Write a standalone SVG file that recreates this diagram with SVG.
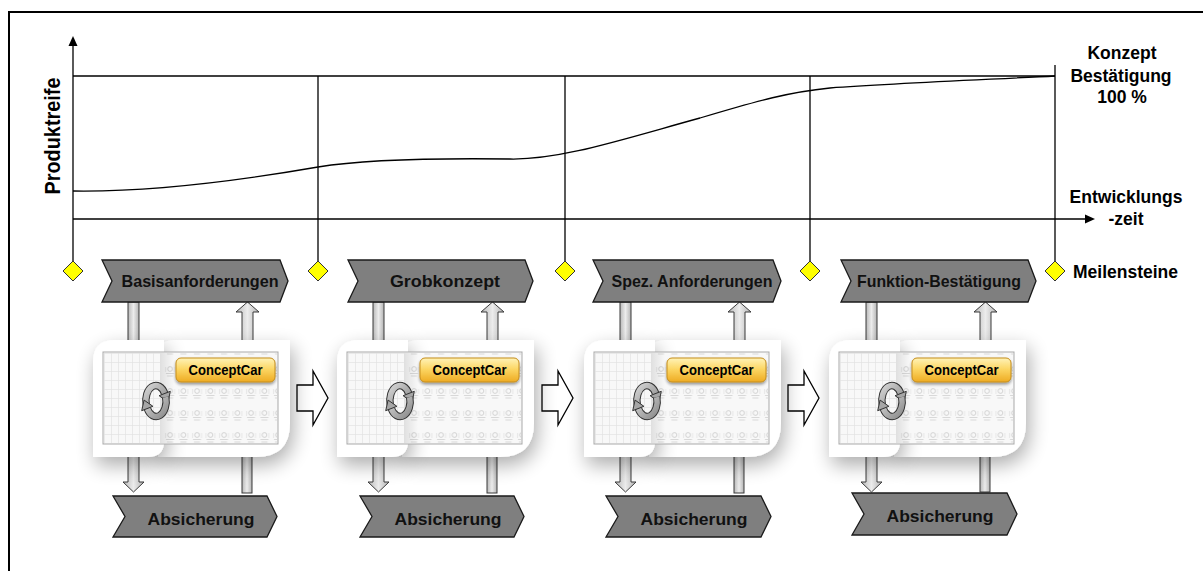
<svg xmlns="http://www.w3.org/2000/svg" xmlns:xlink="http://www.w3.org/1999/xlink" width="1203" height="571" viewBox="0 0 1203 571">
  <style>
    .t{font-family:"Liberation Sans",Arial,Helvetica,sans-serif;font-weight:bold;fill:#000}
    .mid{text-anchor:middle}
    .ax{stroke:#000;stroke-width:1.3;fill:none}
    .ms{fill:#ffff00;stroke:#333;stroke-width:1}
    .chev{fill:#7f7f7f;stroke:#1a1a1a;stroke-width:1.3}
    .ct{font-family:"Liberation Sans",Arial,Helvetica,sans-serif;font-weight:bold;font-size:17px;fill:#111;text-anchor:middle}
    .bar{fill:url(#barG);stroke:#3a3a3a;stroke-width:1}
    .blk{fill:#fff;stroke:#000;stroke-width:1.3}
    .page{fill:#fff}
    .rotO{fill:none;stroke:#333;stroke-width:7.5}
    .rotI{fill:none;stroke:url(#rotG);stroke-width:5.5}
    .rotH{fill:#a6a6a6;stroke:#333;stroke-width:1}
  </style>
  <defs>
    <linearGradient id="barG" x1="0" y1="0" x2="1" y2="0">
      <stop offset="0" stop-color="#b9b9b9"/>
      <stop offset="0.5" stop-color="#ececec"/>
      <stop offset="1" stop-color="#b4b4b4"/>
    </linearGradient>
    <linearGradient id="btnG" x1="0" y1="0" x2="0" y2="1">
      <stop offset="0" stop-color="#fff3b8"/>
      <stop offset="0.45" stop-color="#fcd765"/>
      <stop offset="1" stop-color="#eeab22"/>
    </linearGradient>
    <linearGradient id="rotG" x1="0" y1="0" x2="1" y2="1">
      <stop offset="0" stop-color="#d4d4d4"/>
      <stop offset="1" stop-color="#8c8c8c"/>
    </linearGradient>
    <linearGradient id="seam" x1="0" y1="0" x2="1" y2="0">
      <stop offset="0" stop-color="#000" stop-opacity="0.10"/>
      <stop offset="1" stop-color="#000" stop-opacity="0"/>
    </linearGradient>
    <filter id="soft" x="-30%" y="-30%" width="160%" height="170%">
      <feGaussianBlur in="SourceAlpha" stdDeviation="10"/>
      <feOffset dx="3" dy="8" result="b"/>
      <feComponentTransfer><feFuncA type="linear" slope="0.33"/></feComponentTransfer>
      <feMerge><feMergeNode/><feMergeNode in="SourceGraphic"/></feMerge>
    </filter>
    <filter id="btnShadow" x="-20%" y="-40%" width="140%" height="200%">
      <feGaussianBlur in="SourceAlpha" stdDeviation="1.6"/>
      <feOffset dx="0" dy="2"/>
      <feComponentTransfer><feFuncA type="linear" slope="0.4"/></feComponentTransfer>
      <feMerge><feMergeNode/><feMergeNode in="SourceGraphic"/></feMerge>
    </filter>
    <!-- spreadsheet grid of the left page -->
    <pattern id="gridPat" patternUnits="userSpaceOnUse" x="104" y="353" width="7" height="9">
      <rect width="7" height="9" fill="#f8f8f8"/>
      <path d="M0,0.5H7M0.5,0V9" stroke="#e2e2e2" stroke-width="0.7"/>
    </pattern>
    <!-- rows of small thumbnails on the right page -->
    <pattern id="iconPat" patternUnits="userSpaceOnUse" x="163" y="362" width="13.5" height="22">
      <rect width="13.5" height="22" fill="#f8f8f8"/>
      <circle cx="7" cy="7" r="2.4" fill="none" stroke="#c8c8c8" stroke-width="0.8"/>
      <path d="M3,11.5H11M4,14H10" stroke="#d0d0d0" stroke-width="0.8"/>
      <path d="M2.5,5V10M11.5,5V10" stroke="#dadada" stroke-width="0.6"/>
    </pattern>
    <!-- one tool screen: two pages, content, button and refresh icon -->
    <g id="panelArt">
      <path class="page" filter="url(#soft)" d="M158,457 L158,356 Q158,340 175,340 L290,340 L290,423 Q290,457 256,457 Z"/>
      <path class="page" filter="url(#soft)" d="M93,362 Q93,340 115,340 L164,340 L164,441 Q164,457 148,457 L93,457 Z"/>
      <rect x="103" y="352" width="175" height="92" fill="#f8f8f8" stroke="#a9a9a9" stroke-width="1"/>
      <rect x="162" y="353" width="115" height="90" fill="url(#iconPat)"/>
      <path d="M104,353 H160 V432 Q160,443 149,443 H104 Z" fill="url(#gridPat)"/>
      <rect x="160" y="353" width="14" height="90" fill="url(#seam)"/>
      <g filter="url(#btnShadow)">
        <rect x="176" y="358" width="99" height="24" rx="5" fill="url(#btnG)" stroke="#c58d1c" stroke-width="1"/>
      </g>
      <text x="225.5" y="375" class="t mid" font-size="15" textLength="74" lengthAdjust="spacingAndGlyphs">ConceptCar</text>
      <g>
        <path class="rotO" d="M146.3,404.9 A10,15 0 0 1 164.7,393.5"/>
        <path class="rotI" d="M146.3,404.9 A10,15 0 0 1 164.7,393.5"/>
        <polygon class="rotH" points="170.3,391.3 159.1,395.7 168,401.9"/>
        <path class="rotO" d="M165.7,397.1 A10,15 0 0 1 147.3,408.5"/>
        <path class="rotI" d="M165.7,397.1 A10,15 0 0 1 147.3,408.5"/>
        <polygon class="rotH" points="152.9,406.3 141.7,410.7 144.1,400.1"/>
      </g>
    </g>
  </defs>

  <rect width="1203" height="571" fill="#fff"/>
  <!-- outer frame -->
  <rect x="9" y="12" width="1200" height="570" fill="none" stroke="#000" stroke-width="2"/>

  <!-- maturity chart -->
  <g id="chart">
    <line class="ax" x1="73" y1="46" x2="73" y2="261"/>
    <polygon points="73,36 68.5,46 77.5,46" fill="#000"/>
    <line class="ax" x1="73" y1="219" x2="1086" y2="219"/>
    <polygon points="1095,219 1085,214.5 1085,223.5" fill="#000"/>
    <line class="ax" x1="73" y1="76" x2="1055" y2="76"/>
    <line class="ax" x1="318" y1="76" x2="318" y2="261"/>
    <line class="ax" x1="565" y1="76" x2="565" y2="261"/>
    <line class="ax" x1="810" y1="76" x2="810" y2="261"/>
    <line class="ax" x1="1055" y1="65" x2="1055" y2="261"/>
    <path class="ax" d="M73,191 C140,192 220,184 318,167 C360,160 430,158 510,159 C560,160 620,140 700,118 C760,100 790,92 830,88 C900,83 1000,79 1055,76"/>
    <text class="t mid" font-size="22" textLength="117" lengthAdjust="spacingAndGlyphs" transform="translate(60,136) rotate(-90)">Produktreife</text>
    <text class="t mid" font-size="17.5" x="1122" y="59">Konzept</text>
    <text class="t mid" font-size="17.5" x="1121" y="82">Bestätigung</text>
    <text class="t mid" font-size="17.5" x="1122" y="103">100 %</text>
    <text class="t mid" font-size="17.5" x="1126" y="203">Entwicklungs</text>
    <text class="t mid" font-size="17.5" x="1126" y="225">-zeit</text>
    <text class="t" font-size="17.5" x="1073" y="278">Meilensteine</text>
  </g>

  <!-- milestones -->
  <g id="milestone-1"><polygon class="ms" points="73,261 83,271 73,281 63,271"/></g>
  <g id="milestone-2"><polygon class="ms" points="318,261 328,271 318,281 308,271"/></g>
  <g id="milestone-3"><polygon class="ms" points="565,261 575,271 565,281 555,271"/></g>
  <g id="milestone-4"><polygon class="ms" points="810,261 820,271 810,281 800,271"/></g>
  <g id="milestone-5"><polygon class="ms" points="1055,261 1065,271 1055,281 1045,271"/></g>

  <!-- vertical flows between phases, screens and validation; arrows between screens -->
  <g id="connectors">
    <g transform="translate(0,0)">
      <rect class="bar" x="128" y="302" width="11" height="44"/>
      <path class="bar" d="M242,346 V312 H236 L247.5,302 L259,312 H253 V346 Z"/>
      <path class="bar" d="M128,450 V482 H123 L133.5,492 L144,482 H139 V450 Z"/>
      <rect class="bar" x="242" y="450" width="10" height="43"/>
    </g>
    <g transform="translate(245,0)">
      <rect class="bar" x="128" y="302" width="11" height="44"/>
      <path class="bar" d="M242,346 V312 H236 L247.5,302 L259,312 H253 V346 Z"/>
      <path class="bar" d="M128,450 V482 H123 L133.5,492 L144,482 H139 V450 Z"/>
      <rect class="bar" x="242" y="450" width="10" height="43"/>
    </g>
    <g transform="translate(492,0)">
      <rect class="bar" x="128" y="302" width="11" height="44"/>
      <path class="bar" d="M242,346 V312 H236 L247.5,302 L259,312 H253 V346 Z"/>
      <path class="bar" d="M128,450 V482 H123 L133.5,492 L144,482 H139 V450 Z"/>
      <rect class="bar" x="242" y="450" width="10" height="43"/>
    </g>
    <g transform="translate(738,0)">
      <rect class="bar" x="128" y="302" width="11" height="44"/>
      <path class="bar" d="M242,346 V312 H236 L247.5,302 L259,312 H253 V346 Z"/>
      <path class="bar" d="M128,450 V482 H123 L133.5,492 L144,482 H139 V450 Z"/>
      <rect class="bar" x="242" y="450" width="10" height="42"/>
    </g>
    <polygon class="blk" points="297,385 313,385 313,371 328,398 313,425 313,411 297,411"/>
    <polygon class="blk" points="542,385 558,385 558,371 573,398 558,425 558,411 542,411"/>
    <polygon class="blk" points="788,385 804,385 804,371 819,398 804,425 804,411 788,411"/>
  </g>

  <!-- phase chevrons -->
  <g id="phase-1">
    <polygon class="chev" points="102,260 280,260 288,281 280,302 102,302 112,281"/>
    <text class="ct" x="200" y="287" textLength="157" lengthAdjust="spacingAndGlyphs">Basisanforderungen</text>
  </g>
  <g id="phase-2">
    <polygon class="chev" points="348,260 525,260 533,281 525,302 348,302 358,281"/>
    <text class="ct" x="445" y="287" textLength="110" lengthAdjust="spacingAndGlyphs">Grobkonzept</text>
  </g>
  <g id="phase-3">
    <polygon class="chev" points="593,260 773,260 781,281 773,302 593,302 603,281"/>
    <text class="ct" x="692" y="287" textLength="161" lengthAdjust="spacingAndGlyphs">Spez. Anforderungen</text>
  </g>
  <g id="phase-4">
    <polygon class="chev" points="841,260 1028,260 1036,281 1028,302 841,302 851,281"/>
    <text class="ct" x="939" y="287" textLength="164" lengthAdjust="spacingAndGlyphs">Funktion-Bestätigung</text>
  </g>

  <!-- tool screens -->
  <g id="screen-1"><use xlink:href="#panelArt" href="#panelArt"/></g>
  <g id="screen-2"><use xlink:href="#panelArt" href="#panelArt" transform="translate(244,0)"/></g>
  <g id="screen-3"><use xlink:href="#panelArt" href="#panelArt" transform="translate(491,0)"/></g>
  <g id="screen-4"><use xlink:href="#panelArt" href="#panelArt" transform="translate(736,0)"/></g>

  <!-- validation chevrons -->
  <g id="check-1">
    <polygon class="chev" points="113,496 267,496 277,516.5 267,537 113,537 125,516.5"/>
    <text class="ct" x="201" y="525" textLength="107" lengthAdjust="spacingAndGlyphs">Absicherung</text>
  </g>
  <g id="check-2">
    <polygon class="chev" points="360,496 514,496 524,516.5 514,537 360,537 372,516.5"/>
    <text class="ct" x="448" y="525" textLength="107" lengthAdjust="spacingAndGlyphs">Absicherung</text>
  </g>
  <g id="check-3">
    <polygon class="chev" points="606,496 761,496 771,516.5 761,537 606,537 618,516.5"/>
    <text class="ct" x="694" y="525" textLength="107" lengthAdjust="spacingAndGlyphs">Absicherung</text>
  </g>
  <g id="check-4">
    <polygon class="chev" points="852,493 1007,493 1017,514 1007,535 852,535 864,514"/>
    <text class="ct" x="940" y="522" textLength="107" lengthAdjust="spacingAndGlyphs">Absicherung</text>
  </g>
</svg>
